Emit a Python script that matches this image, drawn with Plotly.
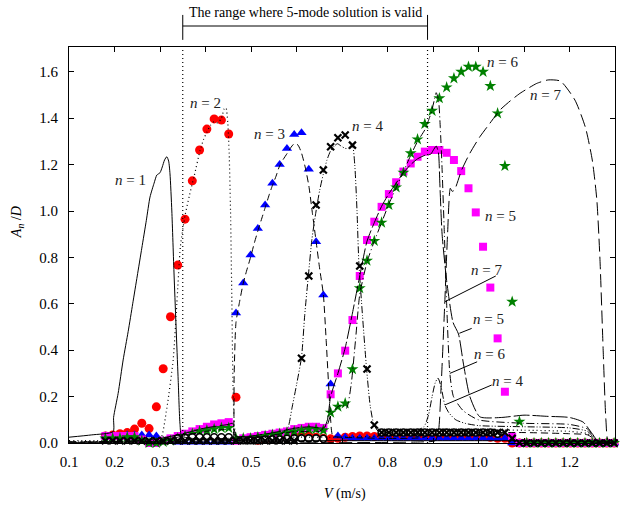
import plotly.graph_objects as go

# ---------------- data ----------------
V_EXP = [0.180, 0.196, 0.212, 0.228, 0.244, 0.260, 0.276, 0.292, 0.307, 0.323,
         0.339, 0.355, 0.371, 0.387, 0.403, 0.419, 0.435, 0.451, 0.467, 0.483,
         0.499, 0.515, 0.531, 0.547, 0.563, 0.579, 0.595, 0.611, 0.627, 0.643,
         0.659, 0.675, 0.691, 0.707, 0.723, 0.739, 0.755, 0.771, 0.787, 0.803,
         0.819, 0.835, 0.851, 0.866, 0.882, 0.898, 0.914, 0.930, 0.946, 0.962,
         0.978, 0.994, 1.010, 1.026, 1.042, 1.058, 1.074, 1.090, 1.106, 1.122,
         1.138, 1.154, 1.170, 1.186, 1.202, 1.218, 1.234, 1.250, 1.266, 1.282,
         1.298]

EXP_N2 = [0.030, 0.035, 0.040, 0.045, 0.060, 0.085, 0.062, 0.156, 0.320, 0.544,
          0.767, 0.965, 1.130, 1.263, 1.353, 1.397, 1.392, 1.332, 0.197, 0.015,
          0.015, 0.012, 0.015, 0.018, 0.020, 0.022, 0.030, 0.032, 0.030, 0.025,
          0.020, 0.018, 0.020, 0.025, 0.028, 0.030, 0.030, 0.028, 0.030, 0.030,
          0.030, 0.030, 0.030, 0.030, 0.030, 0.030, 0.030, 0.030, 0.030, 0.030,
          0.030, 0.030, 0.030, 0.025, 0.020, 0.020, 0.0, 0.0, 0.0, 0.0,
          0.0, 0.0, 0.0, 0.0, 0.0, 0.0, 0.0, 0.0, 0.0, 0.0,
          0.0]

EXP_N3 = [0.030, 0.030, 0.030, 0.035, 0.035, 0.035, 0.035, 0.030, 0.010, 0.005,
          0.003, 0.003, 0.003, 0.003, 0.003, 0.003, 0.003, 0.003, 0.560, 0.690,
          0.810, 0.925, 1.026, 1.120, 1.200, 1.270, 1.330, 1.337, 1.180, 0.868,
          0.638, 0.254, 0.030, 0.025, 0.020, 0.020, 0.020, 0.020, 0.020, 0.020,
          0.020, 0.020, 0.020, 0.020, 0.020, 0.020, 0.020, 0.020, 0.020, 0.020,
          0.020, 0.020, 0.020, 0.020, 0.020, 0.020, 0.0, 0.0, 0.0, 0.0,
          0.0, 0.0, 0.0, 0.0, 0.0, 0.0, 0.0, 0.0, 0.0, 0.0,
          0.0]

EXP_N4 = [0.010, 0.010, 0.010, 0.010, 0.010, 0.010, 0.010, 0.010, 0.010, 0.010,
          0.010, 0.010, 0.010, 0.010, 0.010, 0.010, 0.010, 0.010, 0.010, 0.010,
          0.010, 0.010, 0.010, 0.010, 0.010, 0.010, 0.010, 0.365, 0.720, 1.026,
          1.177, 1.277, 1.316, 1.328, 1.284, 0.763, 0.319, 0.078, 0.045, 0.045,
          0.045, 0.045, 0.045, 0.045, 0.045, 0.045, 0.045, 0.045, 0.045, 0.045,
          0.045, 0.045, 0.045, 0.045, 0.045, 0.045, 0.020, 0.0, 0.0, 0.0,
          0.0, 0.0, 0.0, 0.0, 0.0, 0.0, 0.0, 0.0, 0.0, 0.0,
          0.0]

EXP_N5 = [0.030, 0.030, 0.030, 0.030, 0.030, 0.015, 0.0, 0.0, 0.010, 0.020,
          0.030, 0.040, 0.050, 0.060, 0.070, 0.080, 0.085, 0.090, 0.010, 0.020,
          0.025, 0.030, 0.035, 0.040, 0.045, 0.050, 0.060, 0.065, 0.070, 0.070,
          0.065, 0.210, 0.300, 0.398, 0.530, 0.720, 0.875, 0.954, 1.018, 1.073,
          1.124, 1.170, 1.205, 1.234, 1.256, 1.263, 1.263, 1.251, 1.220, 1.172,
          1.098, 0.994, 0.846, 0.670, 0.451, 0.221, 0.027, 0.0, 0.0, 0.0,
          0.0, 0.0, 0.0, 0.0, 0.0, 0.0, 0.0, 0.0, 0.0, 0.0,
          0.0]

EXP_N6 = [0.020, 0.020, 0.020, 0.025, 0.025, 0.010, 0.0, 0.0, 0.005, 0.010,
          0.020, 0.030, 0.040, 0.050, 0.055, 0.060, 0.065, 0.065, 0.020, 0.020,
          0.020, 0.025, 0.030, 0.035, 0.040, 0.045, 0.050, 0.055, 0.060, 0.060,
          0.055, 0.131, 0.157, 0.171, 0.318, 0.667, 0.786, 0.871, 0.950, 1.026,
          1.102, 1.165, 1.249, 1.309, 1.375, 1.432, 1.486, 1.533, 1.572, 1.600,
          1.622, 1.622, 1.600, 1.539, 1.421, 1.194, 0.609, 0.092, 0.0, 0.0,
          0.0, 0.0, 0.0, 0.0, 0.0, 0.0, 0.0, 0.0, 0.0, 0.0,
          0.0]

# small open black rings in the low-amplitude band
RING_V = [0.339, 0.355, 0.371, 0.387, 0.403, 0.419, 0.435, 0.451,
          0.483, 0.499, 0.515, 0.531, 0.547, 0.563, 0.579, 0.595, 0.611, 0.627, 0.643, 0.659,
          0.787, 0.803, 0.819, 0.835, 0.851, 0.866, 0.882, 0.898, 0.914, 0.930,
          0.946, 0.962, 0.978, 0.994, 1.010, 1.026, 1.042]
RING_A = [0.020, 0.022, 0.025, 0.025, 0.025, 0.025, 0.025, 0.025,
          0.012, 0.012, 0.012, 0.015, 0.015, 0.015, 0.018, 0.020, 0.020, 0.020, 0.020, 0.018,
          0.045, 0.045, 0.045, 0.045, 0.045, 0.045, 0.045, 0.045, 0.045, 0.045,
          0.045, 0.045, 0.045, 0.045, 0.045, 0.045, 0.040]

# model curves
N1_V = [0.100, 0.150, 0.197, 0.198, 0.208, 0.219, 0.230, 0.240, 0.250, 0.260, 0.270, 0.278,
        0.287, 0.293, 0.300, 0.305, 0.310, 0.315, 0.319, 0.322, 0.326, 0.331, 0.340, 0.344,
        0.348, 0.400, 0.500, 0.600, 0.700, 0.800, 0.900, 1.000, 1.100, 1.200, 1.250, 1.270, 1.300]
N1_A = [0.025, 0.035, 0.049, 0.110, 0.214, 0.358, 0.480, 0.600, 0.720, 0.840, 0.960, 1.060,
        1.120, 1.155, 1.165, 1.190, 1.220, 1.234, 1.215, 1.160, 1.000, 0.720, 0.270, 0.080,
        0.030, 0.015, 0.010, 0.010, 0.010, 0.010, 0.010, 0.010, 0.010, 0.008, 0.005, 0.0, 0.0]

N2_V = [0.100, 0.200, 0.280, 0.300, 0.315, 0.329, 0.337, 0.345, 0.355, 0.365, 0.375, 0.388,
        0.396, 0.403, 0.411, 0.419, 0.427, 0.435, 0.441, 0.445, 0.449, 0.452, 0.455, 0.458,
        0.461, 0.465, 0.470, 0.500, 0.600, 0.700, 0.800, 0.850, 0.880, 0.900, 0.950, 1.000,
        1.100, 1.200, 1.240, 1.260, 1.300]
N2_A = [0.010, 0.010, 0.010, 0.010, 0.150, 0.360, 0.600, 0.850, 0.980, 1.070, 1.150, 1.260,
        1.310, 1.340, 1.370, 1.385, 1.380, 1.400, 1.440, 1.445, 1.380, 1.250, 1.000, 0.600,
        0.200, 0.050, 0.030, 0.025, 0.025, 0.025, 0.030, 0.035, 0.040, 0.050, 0.055, 0.055,
        0.055, 0.050, 0.040, 0.010, 0.0]

N3_V = [0.100, 0.300, 0.400, 0.455, 0.460, 0.463, 0.467, 0.475, 0.482, 0.490, 0.499, 0.507,
        0.516, 0.524, 0.532, 0.540, 0.547, 0.555, 0.562, 0.570, 0.580, 0.588, 0.595, 0.603,
        0.611, 0.619, 0.627, 0.635, 0.643, 0.651, 0.659, 0.665, 0.670, 0.675, 0.680, 0.700,
        0.800, 0.880, 0.900, 0.920, 0.950, 1.000, 1.100, 1.200, 1.240, 1.260, 1.300]
N3_A = [0.005, 0.005, 0.008, 0.010, 0.020, 0.300, 0.520, 0.610, 0.680, 0.740, 0.800, 0.860,
        0.920, 0.970, 1.020, 1.070, 1.110, 1.150, 1.190, 1.220, 1.250, 1.275, 1.290, 1.285,
        1.250, 1.190, 1.110, 0.990, 0.870, 0.750, 0.640, 0.450, 0.270, 0.100, 0.030, 0.025,
        0.020, 0.025, 0.050, 0.060, 0.050, 0.045, 0.045, 0.040, 0.035, 0.010, 0.0]

N4_V = [0.100, 0.300, 0.450, 0.550, 0.575, 0.582, 0.590, 0.600, 0.611, 0.618, 0.626, 0.634,
        0.643, 0.651, 0.659, 0.667, 0.675, 0.683, 0.690, 0.698, 0.707, 0.715, 0.723, 0.728,
        0.733, 0.737, 0.745, 0.754, 0.762, 0.770, 0.780, 0.800, 0.850, 0.880, 0.890, 0.898,
        0.905, 0.911, 0.918, 0.926, 0.935, 0.950, 0.970, 1.000, 1.100, 1.200, 1.240, 1.260,
        1.300]
N4_A = [0.005, 0.010, 0.020, 0.030, 0.050, 0.070, 0.150, 0.250, 0.370, 0.550, 0.720, 0.880,
        1.000, 1.090, 1.160, 1.220, 1.260, 1.280, 1.290, 1.280, 1.270, 1.270, 1.280, 1.200,
        1.000, 0.780, 0.550, 0.320, 0.160, 0.080, 0.050, 0.045, 0.045, 0.070, 0.120, 0.200,
        0.260, 0.280, 0.240, 0.164, 0.130, 0.100, 0.085, 0.075, 0.070, 0.065, 0.050, 0.010,
        0.0]

N5_V = [0.100, 0.250, 0.300, 0.350, 0.400, 0.450, 0.460, 0.465, 0.500, 0.550, 0.600, 0.630,
        0.660, 0.668, 0.675, 0.691, 0.707, 0.723, 0.739, 0.755, 0.771, 0.787, 0.803, 0.819,
        0.835, 0.851, 0.866, 0.882, 0.895, 0.900, 0.907, 0.912, 0.915, 0.920, 0.930, 0.944,
        0.956, 0.967, 0.981, 1.003, 1.050, 1.100, 1.150, 1.200, 1.230, 1.250, 1.262, 1.300]
N5_A = [0.0, 0.010, 0.020, 0.040, 0.065, 0.080, 0.085, 0.030, 0.030, 0.045, 0.065, 0.070,
        0.065, 0.100, 0.200, 0.300, 0.410, 0.560, 0.720, 0.870, 0.950, 1.020, 1.075, 1.120,
        1.165, 1.200, 1.225, 1.240, 1.245, 1.260, 1.280, 1.250, 1.120, 0.900, 0.700, 0.520,
        0.470, 0.340, 0.200, 0.113, 0.110, 0.120, 0.115, 0.110, 0.090, 0.040, 0.010, 0.0]

N6_V = [0.100, 0.300, 0.350, 0.400, 0.450, 0.462, 0.470, 0.550, 0.600, 0.650, 0.668, 0.675,
        0.690, 0.700, 0.710, 0.720, 0.730, 0.739, 0.755, 0.771, 0.787, 0.803, 0.819, 0.835,
        0.851, 0.866, 0.882, 0.890, 0.897, 0.903, 0.907, 0.912, 0.916, 0.920, 0.925, 0.930,
        0.937, 0.945, 0.966, 1.000, 1.100, 1.200, 1.240, 1.260, 1.300]
N6_A = [0.0, 0.010, 0.030, 0.050, 0.060, 0.060, 0.020, 0.035, 0.050, 0.050, 0.080, 0.120,
        0.155, 0.165, 0.150, 0.250, 0.450, 0.640, 0.780, 0.870, 0.950, 1.030, 1.100, 1.170,
        1.240, 1.300, 1.350, 1.390, 1.430, 1.480, 1.510, 1.480, 1.360, 1.180, 0.900, 0.600,
        0.300, 0.200, 0.140, 0.100, 0.085, 0.080, 0.060, 0.010, 0.0]

N7_V = [0.100, 0.500, 0.880, 0.905, 0.912, 0.918, 0.926, 0.932, 0.938, 0.942, 0.947, 0.963,
        0.981, 1.003, 1.025, 1.047, 1.070, 1.091, 1.110, 1.128, 1.153, 1.180, 1.212, 1.235,
        1.250, 1.260, 1.267, 1.274, 1.280, 1.285, 1.300]
N7_A = [0.0, 0.0, 0.005, 0.010, 0.050, 0.250, 0.610, 0.900, 1.098, 1.085, 1.090, 1.177,
        1.249, 1.320, 1.378, 1.435, 1.475, 1.507, 1.530, 1.550, 1.565, 1.560, 1.478, 1.360,
        1.220, 1.050, 0.790, 0.400, 0.100, 0.010, 0.0]

X_TICKS = [0.1, 0.2, 0.3, 0.4, 0.5, 0.6, 0.7, 0.8, 0.9, 1.0, 1.1, 1.2, 1.3]
Y_TICKS = [0.0, 0.2, 0.4, 0.6, 0.8, 1.0, 1.2, 1.4, 1.6]
VALID_RANGE = [0.35, 0.888]

# ---------------- figure ----------------
FONT = "'Liberation Serif', 'Times New Roman', serif"
fig = go.Figure()

def markers(x, y, symbol, color, size, line=None):
    fig.add_trace(go.Scatter(x=x, y=y, mode="markers", cliponaxis=False,
                             marker=dict(symbol=symbol, color=color, size=size,
                                         line=line or dict(width=0)),
                             showlegend=False, hoverinfo="skip"))

markers(V_EXP, EXP_N2, "circle", "#ff0000", 9)
markers(V_EXP, EXP_N3, "triangle-up", "#0000ff", 9)
markers(V_EXP, EXP_N5, "square", "#ff00ff", 8)
markers(V_EXP, EXP_N6, "star", "#008000", 9)
markers(RING_V, RING_A, "circle", "white", 7, dict(width=1.6, color="black"))
markers(V_EXP, EXP_N4, "x-thin", "black", 7, dict(width=2.2, color="black"))

def curve(x, y, dash, width=1.0):
    fig.add_trace(go.Scatter(x=x, y=y, mode="lines", cliponaxis=False,
                             line=dict(color="black", width=width, dash=dash, shape="spline",
                                       smoothing=0.6),
                             showlegend=False, hoverinfo="skip"))

curve(N1_V, N1_A, "solid")
curve(N2_V, N2_A, "1px,3px", 1.2)
curve(N3_V, N3_A, "7px,4px")
curve(N4_V, N4_A, "7px,2px,1px,2px,1px,2px")
curve(N5_V, N5_A, "16px,3px")
curve(N6_V, N6_A, "8px,3px,1px,3px")
curve(N7_V, N7_A, "13px,5px")

shapes = []
for xv in VALID_RANGE:
    shapes.append(dict(type="line", xref="x", yref="paper", x0=xv, x1=xv, y0=0, y1=1,
                       line=dict(color="black", width=1.2, dash="1px,3px")))
    shapes.append(dict(type="line", xref="x", yref="paper", x0=xv, x1=xv, y0=1.018, y1=1.081,
                       line=dict(color="black", width=1)))
shapes.append(dict(type="line", xref="x", yref="paper", x0=VALID_RANGE[0], x1=VALID_RANGE[1],
                   y0=1.053, y1=1.053, line=dict(color="black", width=1)))

# pointer lines for the labels on the right
pointers = [((1.038, 0.720), (0.926, 0.609)),
            ((0.985, 0.494), (0.958, 0.473)),
            ((0.997, 0.350), (0.937, 0.300)),
            ((1.029, 0.250), (0.926, 0.164))]
for (a, b) in pointers:
    shapes.append(dict(type="line", xref="x", yref="y", x0=a[0], y0=a[1], x1=b[0], y1=b[1],
                       line=dict(color="black", width=1)))

labels = [("1", 0.2355, 1.134), ("2", 0.399, 1.467), ("3", 0.540, 1.332),
          ("4", 0.756, 1.368), ("6", 1.053, 1.644), ("7", 1.148, 1.500),
          ("5", 1.049, 0.978), ("7", 1.018, 0.746), ("5", 1.023, 0.533),
          ("6", 1.024, 0.384), ("4", 1.063, 0.269)]
annotations = []
for n, xv, yv in labels:
    annotations.append(dict(x=xv, y=yv, xref="x", yref="y", text="<i>n</i> = " + n,
                            xanchor="center", yanchor="middle",
                            showarrow=False, font=dict(family=FONT, size=15, color="#222")))

annotations.append(dict(x=sum(VALID_RANGE) / 2, y=1.086, xref="x", yref="paper",
                        xanchor="center", yanchor="middle",
                        text="The range where 5-mode solution is valid", showarrow=False,
                        font=dict(family=FONT, size=14, color="black")))
annotations.append(dict(x=0.505, y=-0.129, xref="paper", yref="paper",
                        xanchor="center", yanchor="middle",
                        text="<i>V</i> (m/s)", showarrow=False,
                        font=dict(family=FONT, size=14, color="black")))
annotations.append(dict(x=-0.095, y=0.558, xref="paper", yref="paper", textangle=-90,
                        xanchor="center", yanchor="middle",
                        text="<i>A</i><sub><i>n</i></sub> /<i>D</i>", showarrow=False,
                        font=dict(family=FONT, size=14, color="black")))

axis_common = dict(showline=True, linecolor="black", linewidth=1, mirror="allticks",
                   ticks="inside", ticklen=5, tickcolor="black", showgrid=False,
                   zeroline=False, tickfont=dict(family=FONT, size=15, color="black"))

fig.update_layout(
    width=623, height=510,
    margin=dict(l=69, r=8, t=47, b=67),
    paper_bgcolor="white", plot_bgcolor="white",
    font=dict(family=FONT, color="black"),
    xaxis=dict(range=[0.1, 1.3], tickvals=X_TICKS, ticktext=[f"{v:.1f}" for v in X_TICKS],
               ticklabelstandoff=5, **axis_common),
    yaxis=dict(range=[0, 1.707], tickvals=Y_TICKS, ticktext=[f"{v:.1f}" for v in Y_TICKS],
               ticklabelstandoff=7, **axis_common),
    shapes=shapes, annotations=annotations,
)

fig.write_html("out.html")
